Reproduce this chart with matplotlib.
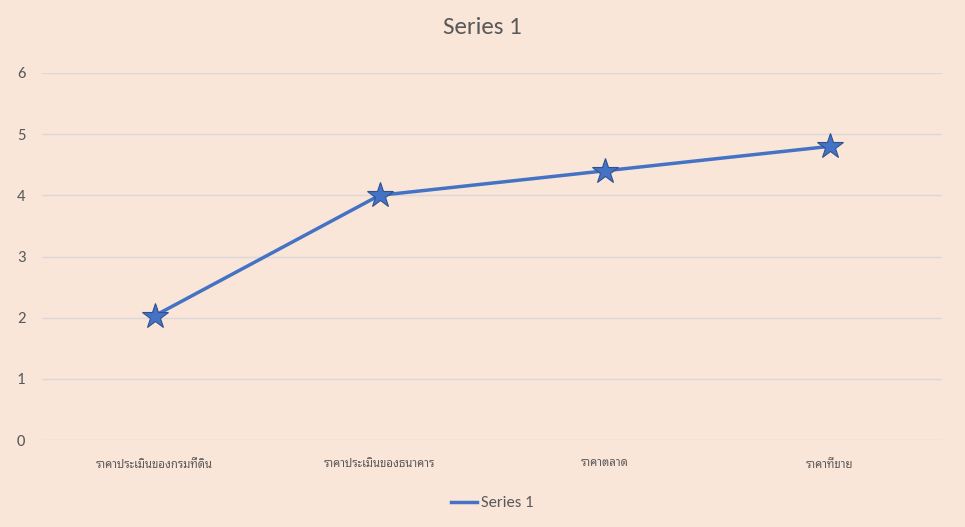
import matplotlib
matplotlib.use('Agg')
import matplotlib.pyplot as plt
from matplotlib.lines import Line2D

plt.rcParams['font.family'] = ['Carlito', 'Noto Sans Thai Looped', 'DejaVu Sans']

categories = ['ราคาประเมินของกรมที่ดิน', 'ราคาประเมินของธนาคาร', 'ราคาตลาด', 'ราคาที่ขาย']
values = [2.03, 4.0, 4.4, 4.8]
series_name = 'Series 1'
y_ticks = [0, 1, 2, 3, 4, 5, 6]

bg = '#FAE5D9'
txt = '#595959'
line_col = '#4472C4'

fig = plt.figure(figsize=(9.65, 5.27), dpi=100, facecolor=bg)
ax = fig.add_axes([42/965, 1 - 440/527, 900/965, (440-73)/527])
ax.set_facecolor(bg)
x = range(len(categories))
ax.plot(x, values, color=line_col, lw=2.5, marker='*', markersize=19,
        markerfacecolor=line_col, markeredgecolor='#2F528F', markeredgewidth=0.8)
ax.set_xlim(-0.5, len(categories) - 0.5)
ax.set_ylim(0, 6)
ax.set_yticks(y_ticks)
ax.set_xticks(list(x))
ax.set_xticklabels(categories, fontsize=8.2, color=txt)
ax.tick_params(axis='both', length=0, colors=txt)
ax.tick_params(axis='y', pad=12, labelsize=12)
ax.tick_params(axis='x', pad=14)
ax.grid(axis='y', color='#D9D9D9', lw=1)
ax.set_axisbelow(True)
for s in ax.spines.values():
    s.set_visible(False)

fig.text(0.5, 1 - 28/527, series_name, ha='center', va='center', fontsize=18, color=txt)

# legend shows the line only
handle = Line2D([], [], color=line_col, lw=2.5)
leg = ax.legend([handle], [series_name], loc='center',
                bbox_to_anchor=(0.5, (440 - 503) / (440 - 73)), frameon=False,
                fontsize=12, handlelength=1.6, handletextpad=0.2)
for t in leg.get_texts():
    t.set_color(txt)

fig.savefig('out.png', dpi=100, facecolor=bg)
